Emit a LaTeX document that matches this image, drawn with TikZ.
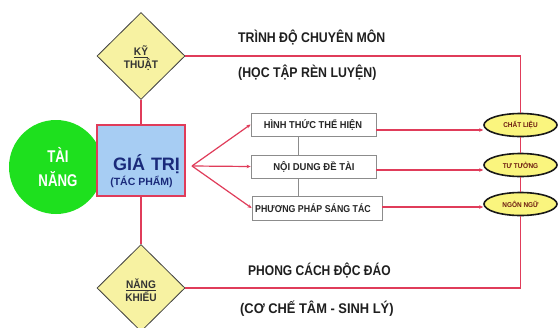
\documentclass[tikz,border=0pt]{standalone}
\usepackage{fontspec}
\setmainfont{Liberation Sans}
\usetikzlibrary{shapes.geometric,arrows.meta,calc}
\definecolor{lnred}{HTML}{E03C5A}
\definecolor{dyel}{HTML}{F7F2A2}
\definecolor{eyel}{HTML}{FAF57E}
\definecolor{gblue}{HTML}{A7CDF3}
\definecolor{ggreen}{HTML}{1EE01E}
\definecolor{navy}{HTML}{1A2A7A}
\definecolor{etext}{HTML}{6B1A10}
\tikzset{
  redline/.style={draw=lnred, line width=1.2pt},
  redarrow/.style={redline, -{Stealth[length=4pt,width=3.5pt]}},
  grayline/.style={draw=black!45, line width=0.8pt},
  diam/.style={diamond, draw=black!75, fill=dyel, line width=0.8pt, minimum width=88pt, minimum height=87pt, inner sep=0pt},
  dtext/.style={inner sep=0pt, align=center, font=\bfseries\fontsize{11}{13}\selectfont, text=black!80},
  wbox/.style={draw=black!45, fill=white, line width=0.8pt, inner sep=0pt},
  btext/.style={inner sep=0pt, font=\bfseries\fontsize{10}{12}\selectfont, text=black!85},
  ell/.style={ellipse, draw=black!90, fill=eyel, line width=1.6pt, minimum width=73pt, minimum height=23pt, inner sep=0pt},
  etxt/.style={inner sep=0pt, font=\bfseries\fontsize{7}{8}\selectfont, text=etext},
  lbl/.style={inner sep=0pt, font=\bfseries\fontsize{14}{16}\selectfont, text=black!88, anchor=base west}
}
\begin{document}
\begin{tikzpicture}[x=1pt,y=-1pt]
\useasboundingbox[fill=white] (0,0) rectangle (560,327);
% talent circle
\node[circle, fill=ggreen, minimum size=94pt, inner sep=0pt] (tn) at (56,167) {};
\begin{scope}[shift={(58,167)}, xscale=0.78, transform shape]
\node[inner sep=0pt, align=center, text=white, font=\bfseries\fontsize{17}{24}\selectfont] (tnt) at (0,0) {TÀI\\NĂNG};
\end{scope}
% value box
\node[draw=lnred, fill=gblue, line width=1.2pt, minimum width=88pt, minimum height=71pt, inner sep=0pt] (gt) at (141,160.5) {};
\node[inner sep=0pt, font=\bfseries\fontsize{18}{20}\selectfont, text=navy] (gtt) at (146.5,164) {GIÁ\hspace{6pt}TRỊ};
\node[inner sep=0pt, font=\bfseries\fontsize{10.5}{12}\selectfont, text=navy] (gtp) at (141.5,182) {(TÁC PHẨM)};
% diamonds
\node[diam] (kt) at (141,56) {};
\node[diam] (nk) at (141,288) {};
\begin{scope}[shift={(141,58)}, xscale=0.92, transform shape]
\node[dtext] (ktt) at (0,0) {\underline{KỸ}\\THUẬT};
\end{scope}
\begin{scope}[shift={(141,290)}, xscale=0.92, transform shape]
\node[dtext] (nkt) at (0,0) {\underline{NĂNG}\\KHIẾU};
\end{scope}
% boxes
\node[wbox, minimum width=125pt, minimum height=23pt] (b1) at (313.5,124.5) {};
\node[wbox, minimum width=125pt, minimum height=23pt] (b2) at (313.5,166.5) {};
\node[wbox, minimum width=130pt, minimum height=24pt] (b3) at (317,208) {};
\begin{scope}[shift={(313,124.5)}, xscale=0.93, transform shape]
\node[btext] (b1t) at (0,0) {HÌNH THỨC THỂ HIỆN};
\end{scope}
\begin{scope}[shift={(314,166.5)}, xscale=0.95, transform shape]
\node[btext] (b2t) at (0,0) {NỘI DUNG ĐỀ TÀI};
\end{scope}
\begin{scope}[shift={(313,208)}, xscale=0.88, transform shape]
\node[btext] (b3t) at (0,0) {PHƯƠNG PHÁP SÁNG TÁC};
\end{scope}
% ellipses
\node[ell] (cl) at (520.5,125) {};
\node[ell] (tt) at (520.5,165) {};
\node[ell] (nn) at (520.5,204) {};
\begin{scope}[shift={(520.5,125)}, xscale=0.92, transform shape]
\node[etxt] (clt) at (0,0) {CHẤT LIỆU};
\end{scope}
\begin{scope}[shift={(520.5,165)}, xscale=0.92, transform shape]
\node[etxt] (ttt) at (0,0) {TƯ TƯỞNG};
\end{scope}
\begin{scope}[shift={(520.5,204)}, xscale=0.92, transform shape]
\node[etxt] (nnt) at (0,0) {NGÔN NGỮ};
\end{scope}
% labels
\begin{scope}[shift={(238,42)}, xscale=0.88, transform shape]
\node[lbl] (l1) at (0,0) {TRÌNH ĐỘ CHUYÊN MÔN};
\end{scope}
\begin{scope}[shift={(238,77)}, xscale=0.88, transform shape]
\node[lbl] (l2) at (0,0) {(HỌC TẬP RÈN LUYỆN)};
\end{scope}
\begin{scope}[shift={(248,275)}, xscale=0.86, transform shape]
\node[lbl] (l3) at (0,0) {PHONG CÁCH ĐỘC ĐÁO};
\end{scope}
\begin{scope}[shift={(240,313)}, xscale=0.92, transform shape]
\node[lbl] (l4) at (0,0) {(CƠ CHẾ TÂM - SINH LÝ)};
\end{scope}
% connectors
\draw[redline] (kt.south) -- (gt.north);
\draw[redline] (gt.south) -- (nk.north);
\draw[redline] (kt.east) -| (cl.north);
\draw[redline] (nk.east) -| (nn.south);
\draw[redline] (cl.south) -- (tt.north);
\draw[redline] (tt.south) -- (nn.north);
\coordinate (fan) at (192,166);
\draw[redarrow] (fan) -- (b1.west);
\draw[redarrow] (fan) -- (b2.west);
\draw[redarrow] (fan) -- (b3.west);
\draw[grayline] ([xshift=-15.5pt]b1.south) -- ([xshift=-15.5pt]b2.north);
\draw[grayline] ([xshift=-15.5pt]b2.south) -- ([xshift=-19pt]b3.north);
\coordinate (a1) at ([yshift=-5.5pt]b1.east);
\coordinate (a2) at ([yshift=-3.5pt]b2.east);
\coordinate (a3) at ([yshift=1pt]b3.east);
\draw[redarrow] (a1) -- (a1 -| cl.west);
\draw[redarrow] (a2) -- (a2 -| tt.west);
\draw[redarrow] (a3) -- (a3 -| nn.west);
\end{tikzpicture}
\end{document}
